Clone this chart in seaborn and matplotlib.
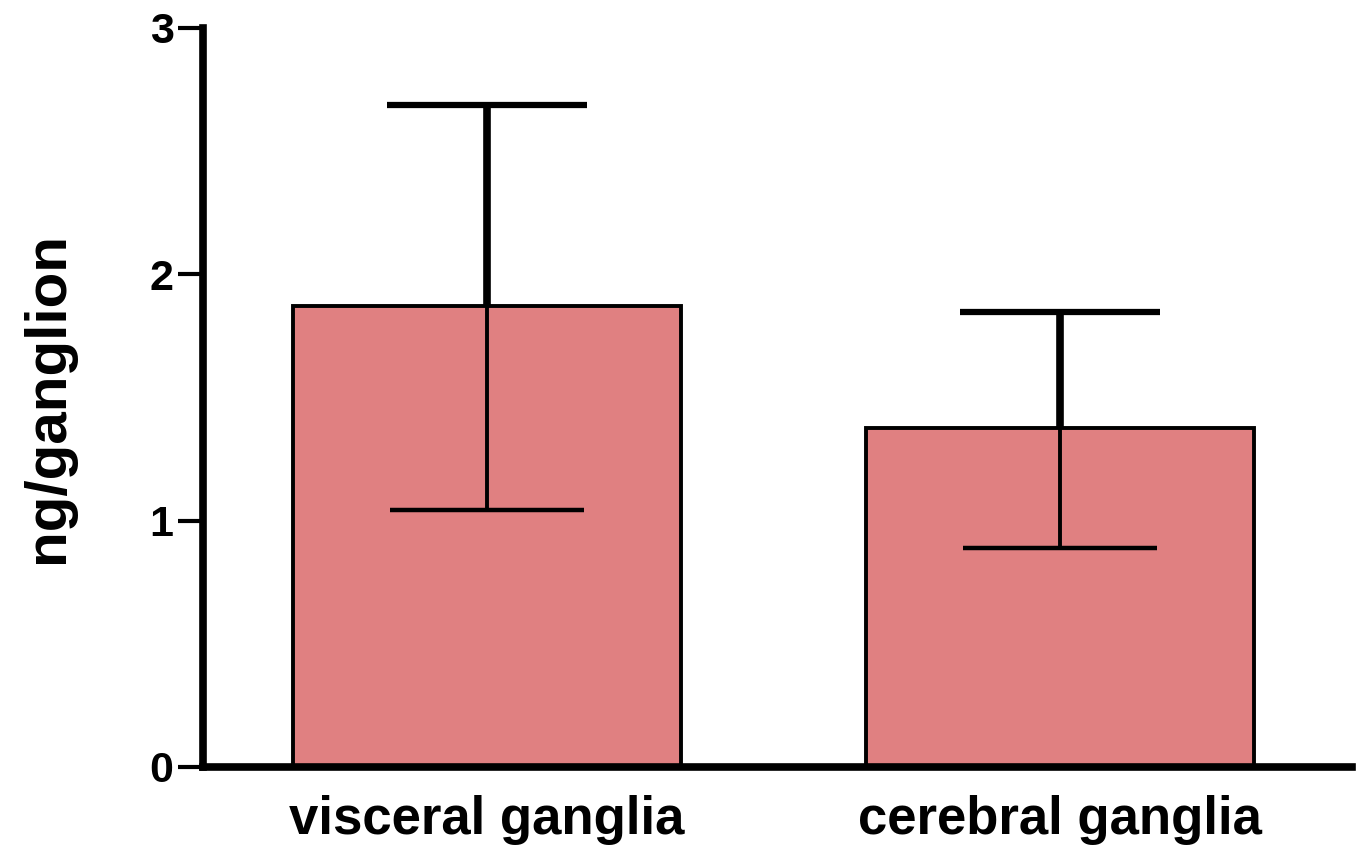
import matplotlib
matplotlib.use("Agg")
import matplotlib.pyplot as plt
import seaborn as sns
import pandas as pd

# Group means and standard deviations (ng per ganglion)
categories = ["visceral ganglia", "cerebral ganglia"]
means = [1.87, 1.375]
sd_upper = [0.815, 0.47]
sd_lower = [0.825, 0.485]
y_ticks = [0, 1, 2, 3]

sns.set_theme(style="ticks")
plt.rcParams["font.family"] = ["Liberation Sans", "DejaVu Sans"]
plt.rcParams["font.weight"] = "bold"

fig = plt.figure(figsize=(13.6, 8.52), dpi=100)
ax = fig.add_axes([0.149, 0.0998, 0.845, 0.8675])

df = pd.DataFrame({"region": categories, "amount": means})
sns.barplot(data=df, x="region", y="amount", ax=ax, errorbar=None,
            color="#E08081", saturation=1, width=0.677,
            edgecolor="black", linewidth=2.8)

xs = list(range(len(categories)))
zeros = [0] * len(means)
# upper half of the SD bar (thicker, above the bar top)
_, caps_up, _ = ax.errorbar(xs, means, yerr=[zeros, sd_upper], fmt="none",
                            ecolor="black", elinewidth=5.5, capsize=72,
                            capthick=4.5, zorder=5)
caps_up[0].set_visible(False)
# lower half of the SD bar (inside the bar)
_, caps_lo, _ = ax.errorbar(xs, means, yerr=[sd_lower, zeros], fmt="none",
                            ecolor="black", elinewidth=2.8, capsize=70,
                            capthick=3.2, zorder=5)
caps_lo[1].set_visible(False)

ax.set_ylim(0, 3)
ax.set_xlim(-0.496, 1.51)
ax.set_yticks(y_ticks)
ax.set_yticklabels([str(t) for t in y_ticks])

sns.despine(ax=ax)
for side in ("left", "bottom"):
    ax.spines[side].set_linewidth(5.5)
    ax.spines[side].set_color("black")

ax.tick_params(axis="y", length=18, width=3, pad=3, labelsize=31, colors="black")
ax.tick_params(axis="x", length=0, pad=20, labelsize=38, colors="black")
for lbl in ax.get_xticklabels() + ax.get_yticklabels():
    lbl.set_fontweight("bold")

ax.set_xlabel("")
ax.set_ylabel("ng/ganglion", fontsize=42, fontweight="bold", color="black")
ax.yaxis.set_label_coords(-0.111, 0.5)

fig.savefig("out.png", dpi=100, facecolor="white")
